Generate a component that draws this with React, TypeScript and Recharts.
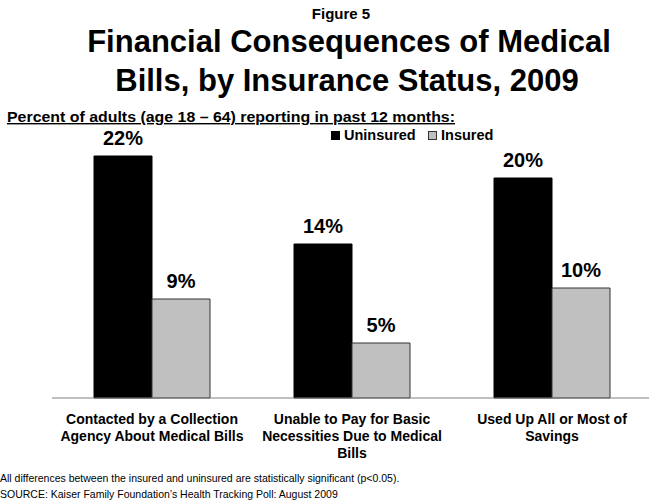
import React from "react";
import { BarChart, Bar, XAxis, YAxis, LabelList } from "recharts";

const categories = [
  "Contacted by a Collection Agency About Medical Bills",
  "Unable to Pay for Basic Necessities Due to Medical Bills",
  "Used Up All or Most of Savings",
];
const categoryLines = [
  ["Contacted by a Collection", "Agency About Medical Bills"],
  ["Unable to Pay for Basic", "Necessities Due to Medical", "Bills"],
  ["Used Up All or Most of", "Savings"],
];
const uninsured = [22, 14, 20];
const insured = [9, 5, 10];
const seriesNames = ["Uninsured", "Insured"];
const seriesColors = ["#000000", "#C0C0C0"];

const data = categories.map((c, i) => ({
  name: c,
  idx: i,
  uninsured: uninsured[i],
  insured: insured[i],
}));

const FONT = '"Liberation Sans", Arial, sans-serif';

const CategoryTick = (props: any) => {
  const { x, y, payload } = props;
  const i = categories.indexOf(payload.value);
  const lines = categoryLines[i] || [payload.value];
  return (
    <text
      x={x}
      y={y}
      textAnchor="middle"
      fontFamily={FONT}
      fontWeight="bold"
      fontSize={14}
      fill="#000"
    >
      {lines.map((l, k) => (
        <tspan key={k} x={x} dy={k === 0 ? 18 : 17}>
          {l}
        </tspan>
      ))}
    </text>
  );
};

export default function App() {
  return (
    <div
      style={{
        position: "absolute",
        left: 0,
        top: 0,
        width: 649,
        height: 504,
        overflow: "hidden",
        background: "#fff",
        fontFamily: FONT,
      }}
    >
      <svg
        width={649}
        height={504}
        style={{ position: "absolute", left: 0, top: 0 }}
      >
        <text x={341} y={19} textAnchor="middle" fontFamily={FONT} fontWeight="bold" fontSize={15} fill="#000">
          Figure 5
        </text>
        <text x={349} y={52} textAnchor="middle" fontFamily={FONT} fontWeight="bold" fontSize={31} fill="#000">
          Financial Consequences of Medical
        </text>
        <text x={347} y={91} textAnchor="middle" fontFamily={FONT} fontWeight="bold" fontSize={31} fill="#000">
          Bills, by Insurance Status, 2009
        </text>
        <text x={7} y={122} fontFamily={FONT} fontWeight="bold" fontSize={14} fill="#000" textDecoration="underline" textLength={448} lengthAdjust="spacingAndGlyphs">
          Percent of adults (age 18 – 64) reporting in past 12 months:
        </text>
        {/* legend */}
        <rect x={331.5} y={131.5} width={8} height={8} fill={seriesColors[0]} stroke="#000" />
        <text x={344} y={140} fontFamily={FONT} fontWeight="bold" fontSize={14.5} fill="#000">
          {seriesNames[0]}
        </text>
        <rect x={428.5} y={131.5} width={8} height={8} fill={seriesColors[1]} stroke="#333" />
        <text x={441} y={140} fontFamily={FONT} fontWeight="bold" fontSize={14.5} fill="#000">
          {seriesNames[1]}
        </text>
        <text x={0} y={482} fontFamily={FONT} fontSize={10.5} fill="#000">
          All differences between the insured and uninsured are statistically significant (p&lt;0.05).
        </text>
        <text x={0} y={498} fontFamily={FONT} fontSize={10.5} fill="#000">
          SOURCE: Kaiser Family Foundation’s Health Tracking Poll: August 2009
        </text>
      </svg>
      <div style={{ position: "absolute", left: 0, top: 0 }}>
        <BarChart
          width={660}
          height={504}
          data={data}
          margin={{ top: 123, right: 8, bottom: 76, left: 52 }}
          barCategoryGap={42}
          barGap={0}
        >
          <YAxis hide domain={[0, 25]} type="number" />
          <XAxis
            dataKey="name"
            interval={0}
            tickLine={false}
            height={30}
            axisLine={{ stroke: "#808080", strokeWidth: 1 }}
            tick={<CategoryTick />}
          />
          <XAxis
            xAxisId="bounds"
            type="number"
            dataKey="idx"
            domain={[0, 3]}
            ticks={[0, 1, 2, 3]}
            axisLine={false}
            tickLine={{ stroke: "#808080" }}
            tickSize={4}
            tick={false}
            height={0}
          />
          <Bar dataKey="uninsured" name={seriesNames[0]} fill={seriesColors[0]} stroke="#000000" isAnimationActive={false}>
            <LabelList
              dataKey="uninsured"
              position="top"
              offset={11}
              formatter={(v: any) => `${v}%`}
              style={{ fontFamily: FONT, fontWeight: "bold", fontSize: 20, fill: "#000" }}
            />
          </Bar>
          <Bar dataKey="insured" name={seriesNames[1]} fill={seriesColors[1]} stroke="#333333" isAnimationActive={false}>
            <LabelList
              dataKey="insured"
              position="top"
              offset={11}
              formatter={(v: any) => `${v}%`}
              style={{ fontFamily: FONT, fontWeight: "bold", fontSize: 20, fill: "#000" }}
            />
          </Bar>
        </BarChart>
      </div>
    </div>
  );
}
